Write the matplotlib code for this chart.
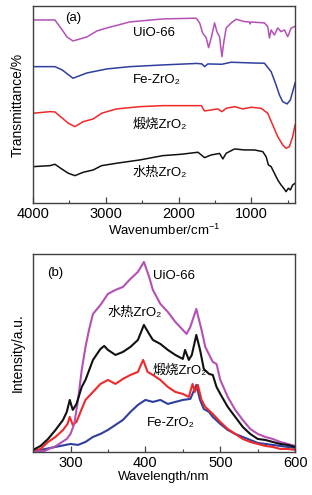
import matplotlib
matplotlib.use("Agg")
import matplotlib.pyplot as plt
from matplotlib.ticker import MultipleLocator

plt.rcParams['font.family'] = ['Liberation Sans', 'Noto Sans CJK SC', 'DejaVu Sans']
plt.rcParams['mathtext.fontset'] = 'custom'
plt.rcParams['mathtext.rm'] = 'Liberation Sans'
plt.rcParams['mathtext.it'] = 'Liberation Sans'

# ---------------- (a) FTIR data ----------------
uio_wn = [4000, 3700, 3650, 3600, 3534, 3452, 3356, 3260, 3123, 2986, 2671, 2219, 1800, 1758, 1712, 1671,
          1621, 1589, 1553, 1507, 1475, 1438, 1406, 1379, 1347, 1279, 1210, 1096, 1030, 1020, 1005, 822,
          777, 753, 730, 685, 639, 594, 548, 502, 456, 411]
uio_t = [183, 183, 178, 173, 166, 162, 164, 166, 172, 175, 181, 184, 184.7, 184.7, 180, 170,
         165, 155.3, 165, 180, 171.3, 166, 146.3, 161.3, 175, 180, 183.7, 181.3, 181, 179, 181, 180,
         176.3, 165, 173, 168, 175, 171.3, 173, 166.3, 174.7, 176.3]

fe_wn = [4000, 3700, 3600, 3452, 3260, 2986, 2671, 2219, 1750, 1680, 1644, 1600, 1406, 1279, 1000, 822,
         730, 662, 616, 571, 511, 466, 434, 401]
fe_t = [136.3, 136.3, 133, 124.7, 130, 134, 136.3, 138, 139.5, 139, 136.3, 139, 138.7, 140.7, 140, 139.7,
        131.3, 118, 108, 101.3, 99, 103, 111.3, 120]

cal_wn = [4000, 3767, 3700, 3607, 3516, 3425, 3311, 3174, 3059, 2854, 2534, 2219, 1689, 1644, 1553, 1461,
          1406, 1347, 1233, 1119, 1005, 868, 777, 708, 639, 571, 525, 479, 434, 401]
cal_t = [89.7, 91.3, 91, 85.3, 79.7, 76.3, 81.3, 84, 89.7, 94, 96.3, 97.3, 97.3, 92, 93, 94,
         91.3, 94.7, 96.3, 94, 95.7, 94.7, 89.7, 78, 66.3, 58, 54.7, 56.3, 66.3, 78]

hyd_wn = [4000, 3767, 3700, 3607, 3516, 3425, 3311, 3174, 3059, 2854, 2534, 2219, 1963, 1735, 1644, 1553,
          1438, 1393, 1347, 1233, 1096, 959, 845, 799, 767, 730, 685, 639, 594, 557, 525, 493, 466, 434, 401]
hyd_t = [36.3, 37.3, 38.7, 34, 29.7, 27.3, 30.7, 33, 37.3, 39.7, 43, 47.3, 48.7, 50.7, 45.3, 48,
         49.5, 44, 49.7, 54, 53, 53, 51.3, 46.3, 38, 36.3, 29.7, 23, 18, 14.7, 11.3, 14.7, 13, 18, 19.7]

# ---------------- (b) PL data ----------------
pl_uio_x = [250, 265, 280, 295, 300, 305, 310, 315, 320, 325, 330, 340, 350, 360, 370, 380, 390, 398, 405,
            410, 420, 430, 440, 450, 455, 460, 468, 475, 480, 490, 495, 500, 510, 520, 530, 540, 550, 560,
            570, 580, 590, 600]
pl_uio_y = [0, 1, 5.7, 13, 18, 28, 52, 82, 105, 123, 138, 147, 158, 162, 165, 173, 180, 190, 175,
            162, 148, 140, 130, 122, 118, 125, 143, 122, 105, 90, 88, 72, 55, 42, 32, 23, 18, 15,
            13, 10, 8, 6]

pl_hyd_x = [250, 260, 270, 280, 290, 295, 299, 303, 308, 315, 320, 325, 330, 340, 345, 350, 360, 370, 380,
            390, 398, 405, 410, 420, 430, 440, 450, 453, 458, 462, 468, 473, 478, 485, 490, 495, 500, 510,
            520, 530, 540, 550, 560, 570, 580, 590, 600]
pl_hyd_y = [2, 6, 13, 22, 32, 40, 52, 42, 48, 65, 72, 82, 92, 103, 106, 102, 97, 100, 105,
            112, 127, 118, 112, 108, 102, 97, 93, 102, 92, 97, 117, 102, 83, 78, 77, 65, 58, 45,
            35, 25, 18, 13, 12, 10, 8, 7, 5]

pl_cal_x = [250, 260, 270, 280, 290, 296, 299, 303, 308, 315, 320, 330, 340, 350, 360, 370, 380, 390, 397,
            403, 410, 420, 430, 440, 450, 458, 463, 466, 470, 475, 480, 490, 500, 510, 520, 530, 540, 550,
            560, 570, 580, 590, 600]
pl_cal_y = [1, 3, 10, 15, 22, 28, 35, 27, 30, 43, 52, 60, 68, 72, 68, 73, 77, 80, 92,
            80, 77, 72, 65, 60, 58, 55, 68, 60, 67, 52, 45, 38, 30, 23, 18, 13, 10, 8,
            6, 5, 3, 3, 2]

pl_fe_x = [250, 260, 280, 300, 310, 320, 330, 340, 350, 360, 370, 380, 390, 400, 410, 420, 430, 440, 450,
           460, 468, 473, 478, 485, 490, 500, 510, 520, 530, 540, 550, 560, 570, 580, 590, 600]
pl_fe_y = [1, 2, 5, 8, 7, 10, 15, 18, 22, 27, 32, 40, 47, 52, 50, 52, 48, 50, 52,
           53, 67, 52, 43, 40, 35, 28, 22, 18, 15, 12, 9, 8, 7, 6, 5, 4]

labels = ['UiO-66', 'Fe-ZrO\u2082', '煅烧ZrO\u2082', '水热ZrO\u2082']

c_uio = '#B550B5'
c_fe = '#2E3F9E'
c_cal = '#F0282A'
c_hyd = '#111111'
edge = '#404040'

fig = plt.figure(figsize=(3.12, 4.95), dpi=100)
ax1 = fig.add_axes([0.106, 0.590, 0.840, 0.398])
ax2 = fig.add_axes([0.106, 0.087, 0.840, 0.400])

lw = 1.1
ax1.plot(uio_wn, uio_t, color=c_uio, lw=lw)
ax1.plot(fe_wn, fe_t, color=c_fe, lw=lw)
ax1.plot(cal_wn, cal_t, color=c_cal, lw=lw)
ax1.plot(hyd_wn, hyd_t, color=c_hyd, lw=lw)
ax1.set_xlim(4000, 400)
ax1.set_ylim(0, 197)
ax1.xaxis.set_major_locator(MultipleLocator(1000))
ax1.xaxis.set_minor_locator(MultipleLocator(500))
ax1.set_yticks([])
ax1.set_xlabel('Wavenumber/cm$^{-1}$', fontsize=9.5, labelpad=1)
ax1.set_ylabel('Transmittance/%', fontsize=10, labelpad=6)
fs = 9.5
ax1.text(3452, 185, '(a)', fontsize=fs, ha='center', va='center')
ax1.text(2630, 170, labels[0], fontsize=fs, ha='left', va='center')
ax1.text(2630, 123, labels[1], fontsize=fs, ha='left', va='center')
ax1.text(2630, 78, labels[2], fontsize=fs, ha='left', va='center')
ax1.text(2630, 30, labels[3], fontsize=fs, ha='left', va='center')

lw2 = 1.5
ax2.plot(pl_fe_x, pl_fe_y, color=c_fe, lw=lw2)
ax2.plot(pl_cal_x, pl_cal_y, color=c_cal, lw=lw2)
ax2.plot(pl_uio_x, pl_uio_y, color=c_uio, lw=lw2)
ax2.plot(pl_hyd_x, pl_hyd_y, color=c_hyd, lw=lw2)
ax2.set_xlim(250, 600)
ax2.set_ylim(0, 198)
ax2.xaxis.set_major_locator(MultipleLocator(100))
ax2.xaxis.set_minor_locator(MultipleLocator(50))
ax2.set_yticks([])
ax2.set_xlabel('Wavelength/nm', fontsize=9.5, labelpad=1)
ax2.set_ylabel('Intensity/a.u.', fontsize=10, labelpad=6)
ax2.text(279, 179, '(b)', fontsize=fs, ha='center', va='center')
ax2.text(410, 176, labels[0], fontsize=fs, ha='left', va='center')
ax2.text(349, 139, labels[3], fontsize=fs, ha='left', va='center')
ax2.text(410, 81, labels[2], fontsize=fs, ha='left', va='center')
ax2.text(402, 29, labels[1], fontsize=fs, ha='left', va='center')

for ax in (ax1, ax2):
    for s in ax.spines.values():
        s.set_color(edge)
        s.set_linewidth(1.0)
    ax.tick_params(axis='x', which='major', direction='in', length=4, width=0.9, color=edge,
                   labelsize=10.5, pad=3)
    ax.tick_params(axis='x', which='minor', direction='in', length=2.5, width=0.8, color=edge)

fig.savefig('out.png', dpi=100)
